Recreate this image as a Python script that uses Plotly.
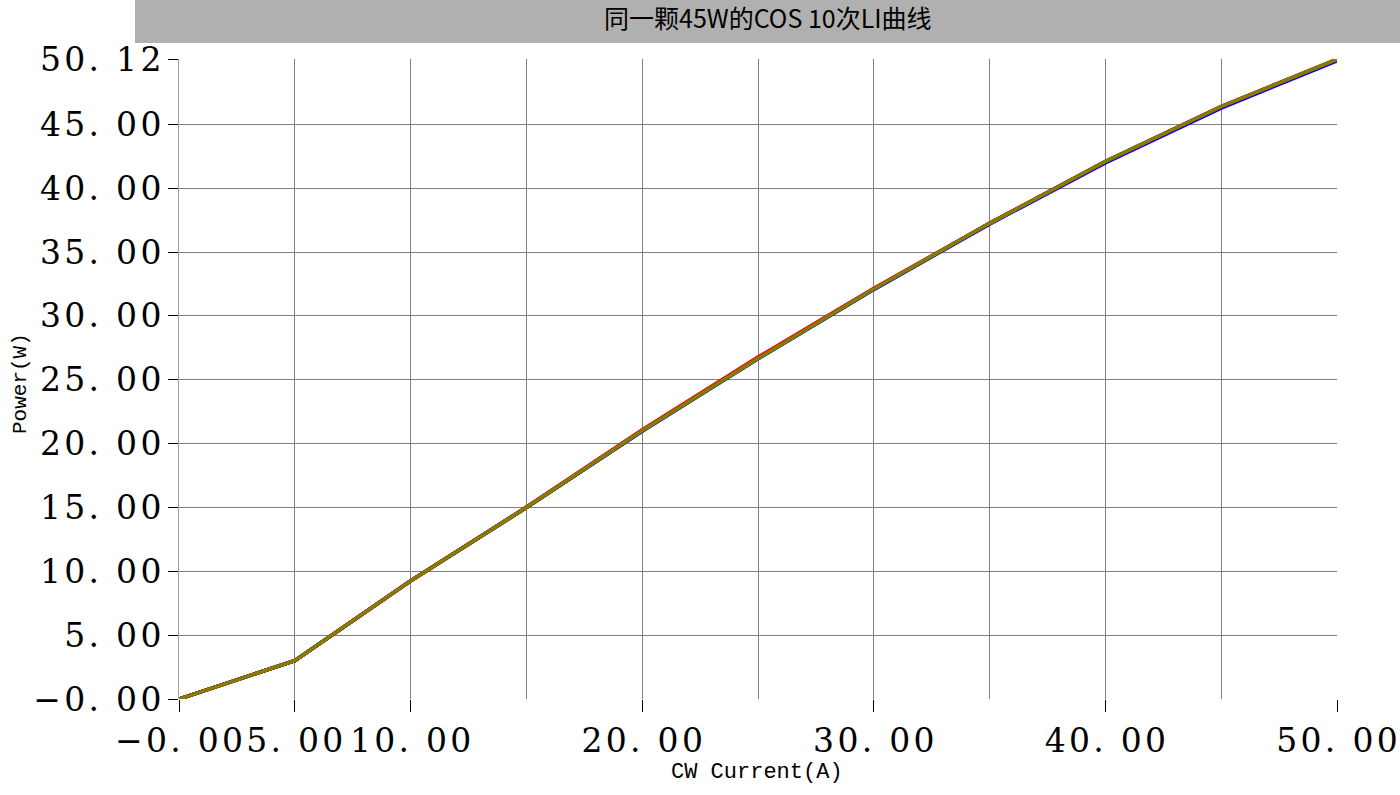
import plotly.graph_objects as go

# ---- data ----
current = [0, 5, 10, 15, 20, 25, 30, 35, 40, 45, 50]

run_names = ["Run 1", "Run 2", "Run 3", "Run 4", "Run 5",
             "Run 6", "Run 7", "Run 8", "Run 9", "Run 10"]
run_colors = ["#008000", "#FFFF00", "#000080", "#FF00FF", "#008080",
              "#808080", "#800000", "#0000FF", "#FF0000", "#808000"]
run_1 = [0.00, 3.00, 9.25, 15.00, 21.00, 26.68, 32.10, 37.24, 42.08, 46.38, 50.08]
run_2 = [0.00, 3.00, 9.25, 15.00, 21.00, 26.67, 32.09, 37.24, 42.07, 46.37, 50.07]
run_3 = [0.00, 3.00, 9.24, 15.00, 20.99, 26.66, 32.10, 37.25, 42.09, 46.39, 50.09]
run_4 = [0.00, 3.00, 9.25, 15.01, 21.01, 26.69, 32.11, 37.25, 42.08, 46.38, 50.08]
run_5 = [0.00, 3.00, 9.25, 15.00, 21.00, 26.67, 32.10, 37.24, 42.07, 46.37, 50.07]
run_6 = [0.00, 3.00, 9.25, 15.00, 21.00, 26.66, 32.09, 37.23, 42.06, 46.36, 50.06]
run_7 = [0.00, 3.00, 9.25, 15.00, 21.01, 26.68, 32.10, 37.25, 42.09, 46.39, 50.09]
run_8 = [0.00, 3.00, 9.25, 15.00, 20.97, 26.64, 32.06, 37.19, 41.98, 46.27, 49.98]
run_9 = [0.00, 3.00, 9.26, 15.03, 21.08, 26.78, 32.16, 37.26, 42.09, 46.39, 50.09]
run_10 = [0.00, 3.00, 9.25, 15.00, 21.00, 26.66, 32.10, 37.25, 42.10, 46.40, 50.10]
runs = [run_1, run_2, run_3, run_4, run_5, run_6, run_7, run_8, run_9, run_10]

HS = "\u200a"  # hair space to widen digit spacing
def spaced(s):
    return HS.join(s)

x_tickvals = [0, 5, 10, 20, 30, 40, 50]
x_ticktext = ["\u22120. 00", "5. 00", "10. 00", "20. 00", "30. 00", "40. 00", "50. 00"]
x_gridvals = [5, 10, 15, 20, 25, 30, 35, 40, 45]
y_tickvals = [0, 5, 10, 15, 20, 25, 30, 35, 40, 45, 50.12]
y_ticktext = ["\u22120. 00", "5. 00", "10. 00", "15. 00", "20. 00", "25. 00",
              "30. 00", "35. 00", "40. 00", "45. 00", "50. 12"]
y_gridvals = [5, 10, 15, 20, 25, 30, 35, 40, 45, 50.12]

title_text = "同一颗45W的COS 10次LI曲线"
x_title = "CW Current(A)"
y_title = "Power(W)"

# ---- figure ----
fig = go.Figure()
for name, color, vals in zip(run_names, run_colors, runs):
    fig.add_trace(go.Scatter(x=current, y=vals, mode="lines", name=name,
                             line=dict(color=color, width=3.5)))

W, H = 1400, 795
L, R, T, B = 179, 63, 59, 96
pw, ph = W - L - R, H - T - B

tick_font = dict(family="DejaVu Serif", size=33, color="black")

fig.update_layout(
    width=W, height=H, autosize=False,
    margin=dict(l=L, r=R, t=T, b=B, pad=0, autoexpand=False),
    paper_bgcolor="white", plot_bgcolor="white",
    showlegend=False,
    xaxis=dict(range=[0, 50], tickvals=x_tickvals, automargin=False,
               ticktext=[spaced(t) for t in x_ticktext],
               ticks="outside", ticklen=12, tickcolor="black", tickwidth=1,
               tickfont=tick_font, showgrid=False, zeroline=False,
               showline=False,
               minor=dict(tickvals=x_gridvals, showgrid=True, gridcolor="#808080",
                          gridwidth=1, ticks="")),
    yaxis=dict(range=[0, 50.12], tickvals=y_tickvals, automargin=False,
               ticktext=[spaced(t) for t in y_ticktext],
               ticks="outside", ticklen=10, tickcolor="black", tickwidth=1,
               tickfont=tick_font, showgrid=False, zeroline=False,
               showline=True, linecolor="#a0a0a0", linewidth=1,
               minor=dict(tickvals=y_gridvals, showgrid=True, gridcolor="#808080",
                          gridwidth=1, ticks="")),
)

def px_x(p):
    return (p - L) / pw

def px_y(p):
    return (H - B - p) / ph

# title bar
fig.add_shape(type="rect", xref="paper", yref="paper",
              x0=px_x(135), x1=px_x(1400), y0=px_y(43), y1=px_y(0),
              fillcolor="#b0b0b0", line=dict(width=0), layer="above")
fig.add_annotation(text=title_text, xref="paper", yref="paper",
                   x=px_x(768), y=px_y(17), showarrow=False,
                   font=dict(family="Noto Sans CJK SC", size=25, color="black"),
                   xanchor="center", yanchor="middle")
fig.add_annotation(text=x_title, xref="paper", yref="paper",
                   x=px_x(757), y=px_y(772), showarrow=False,
                   font=dict(family="Liberation Mono", size=22, color="black"),
                   xanchor="center", yanchor="middle")
fig.add_annotation(text=y_title, xref="paper", yref="paper",
                   x=px_x(20), y=px_y(384), showarrow=False, textangle=-90,
                   font=dict(family="Liberation Mono", size=21, color="black"),
                   xanchor="center", yanchor="middle")

fig.write_html("out.html", config={"displayModeBar": False},
               post_script="document.body.style.margin='0';document.body.style.overflow='hidden';")
